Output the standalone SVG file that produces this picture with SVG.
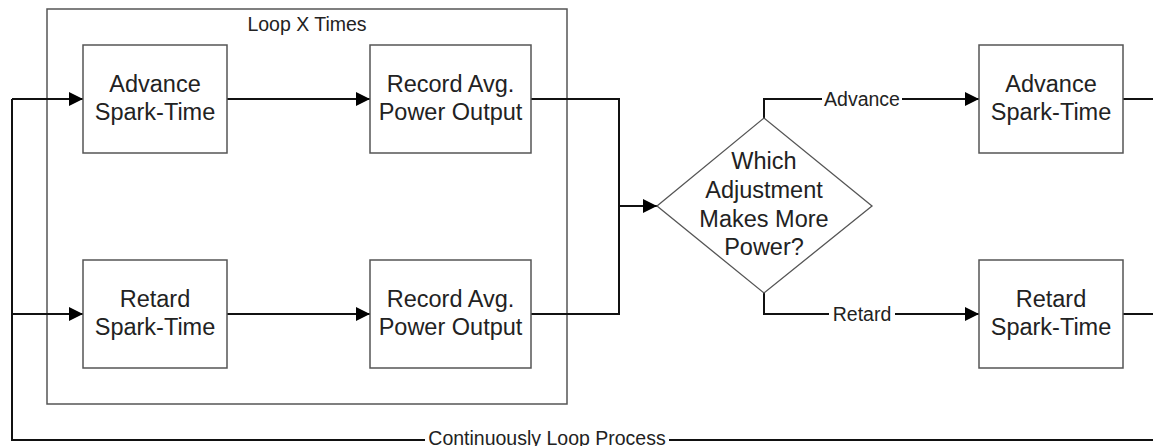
<svg xmlns="http://www.w3.org/2000/svg" width="1153" height="446" viewBox="0 0 1153 446">
<style>
.box{fill:#fff;stroke:#555;stroke-width:1.5}
.dia{fill:#fff;stroke:#555;stroke-width:1.3}
.frame{fill:none;stroke:#555;stroke-width:1.5}
.c{fill:none;stroke:#111;stroke-width:2}
.t{font-family:"Liberation Sans",Arial,sans-serif;font-size:23.5px;fill:#222;text-anchor:middle}
.l{font-family:"Liberation Sans",Arial,sans-serif;font-size:19.5px;fill:#222;text-anchor:middle}
.bg{fill:#fff}
</style>
<defs>
<marker id="ah" markerWidth="14" markerHeight="14" refX="14" refY="7" orient="auto" markerUnits="userSpaceOnUse">
<path d="M0,0 L14,7 L0,14 Z" fill="#000"/>
</marker>
</defs>
<rect width="1153" height="446" fill="#fff"/>
<g id="loopframe">
<rect class="frame" x="47" y="9" width="520" height="395"/>
<text class="l" x="307" y="31">Loop X Times</text>
</g>
<g id="connectors">
<path class="c" d="M12,99 L83,99" marker-end="url(#ah)"/>
<path class="c" d="M12,99 L12,440 L1153,440"/>
<path class="c" d="M12,314 L83,314" marker-end="url(#ah)"/>
<path class="c" d="M227,99 L370,99" marker-end="url(#ah)"/>
<path class="c" d="M227,314 L370,314" marker-end="url(#ah)"/>
<path class="c" d="M531,99 L619,99 L619,314 L531,314"/>
<path class="c" d="M619,206 L657,206" marker-end="url(#ah)"/>
<path class="c" d="M764,118 L764,99 L979,99" marker-end="url(#ah)"/>
<path class="c" d="M764,293 L764,314 L979,314" marker-end="url(#ah)"/>
<path class="c" d="M1123,99 L1153,99"/>
<path class="c" d="M1123,314 L1153,314"/>
<rect class="bg" x="822" y="90" width="80" height="18"/>
<text class="l" x="862" y="106">Advance</text>
<rect class="bg" x="829" y="305" width="66" height="18"/>
<text class="l" x="862" y="321">Retard</text>
<rect class="bg" x="425" y="430" width="244" height="16"/>
<text class="l" x="547" y="445">Continuously Loop Process</text>
</g>
<g id="advance1">
<rect class="box" x="83" y="45" width="144" height="108"/>
<text class="t" x="155" y="92">Advance</text>
<text class="t" x="155" y="119.5">Spark-Time</text>
</g>
<g id="record1">
<rect class="box" x="370" y="45" width="161" height="108"/>
<text class="t" x="450.5" y="92">Record Avg.</text>
<text class="t" x="450.5" y="119.5">Power Output</text>
</g>
<g id="retard1">
<rect class="box" x="83" y="260" width="144" height="108"/>
<text class="t" x="155" y="307">Retard</text>
<text class="t" x="155" y="334.5">Spark-Time</text>
</g>
<g id="record2">
<rect class="box" x="370" y="260" width="161" height="108"/>
<text class="t" x="450.5" y="307">Record Avg.</text>
<text class="t" x="450.5" y="334.5">Power Output</text>
</g>
<g id="decision">
<path class="dia" d="M657,206 L764,118 L872,206 L764,293 Z"/>
<text class="t" x="764" y="169">Which</text>
<text class="t" x="764" y="198">Adjustment</text>
<text class="t" x="764" y="227">Makes More</text>
<text class="t" x="764" y="255">Power?</text>
</g>
<g id="advance2">
<rect class="box" x="979" y="45" width="144" height="108"/>
<text class="t" x="1051" y="92">Advance</text>
<text class="t" x="1051" y="119.5">Spark-Time</text>
</g>
<g id="retard2">
<rect class="box" x="979" y="260" width="144" height="108"/>
<text class="t" x="1051" y="307">Retard</text>
<text class="t" x="1051" y="334.5">Spark-Time</text>
</g>
</svg>
